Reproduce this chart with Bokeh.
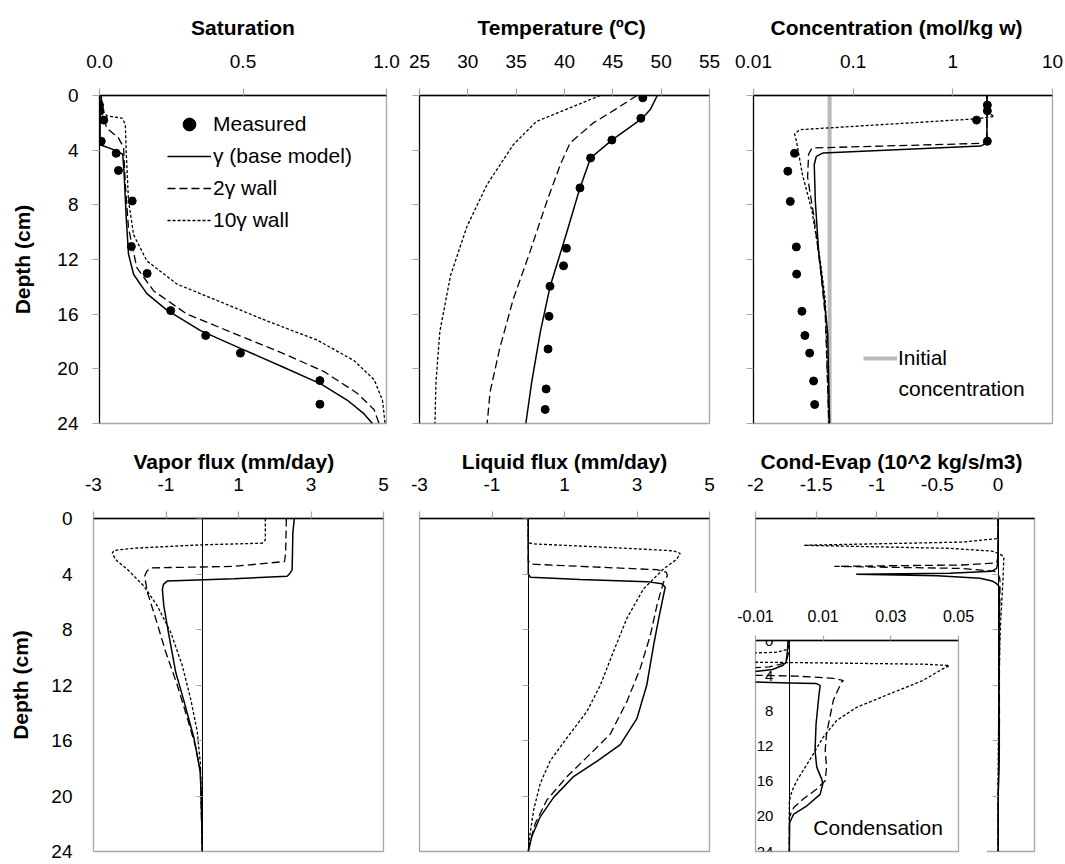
from bokeh.plotting import figure
from bokeh.models import (Range1d, LinearAxis, FixedTicker, Label, Legend, LegendItem, Title)
from bokeh.layouts import row, column
from bokeh.embed import file_html
from bokeh.resources import INLINE

# ---------------- data ----------------
depth_ticks = [0, 4, 8, 12, 16, 20, 24]

# Saturation
sat_meas_depth = [0.70, 1.12, 1.80, 3.35, 4.23, 5.49, 7.72, 11.05, 13.02, 15.74, 17.56, 18.85, 20.86, 22.59]
sat_meas = [0.0, 0.002, 0.015, 0.006, 0.058, 0.066, 0.114, 0.111, 0.166, 0.248, 0.370, 0.491, 0.768, 0.768]
sat_base_depth = [0, 1.0, 2.5, 3.6, 3.96, 4.3, 5.8, 8.9, 11.6, 13.1, 14.5, 15.7, 17.2, 18.5, 19.9, 21.1, 22.3, 23.3, 24]
sat_base = [0.006, 0.003, 0.002, 0.002, 0.049, 0.081, 0.086, 0.093, 0.101, 0.119, 0.165, 0.235, 0.352, 0.491, 0.643, 0.771, 0.864, 0.922, 0.951]
sat_2g_depth = [0, 1.5, 2.4, 3.1, 3.8, 6.5, 9.7, 12.6, 14.3, 16.0, 17.4, 18.9, 20.2, 21.8, 23.0, 24]
sat_2g = [0.006, 0.010, 0.026, 0.066, 0.084, 0.090, 0.101, 0.130, 0.189, 0.305, 0.468, 0.643, 0.782, 0.899, 0.957, 0.974]
sat_10g_depth = [0, 1.2, 1.5, 1.65, 2.1, 4.1, 7.7, 10.2, 12.1, 13.8, 15.0, 16.5, 17.9, 19.4, 20.8, 22.3, 24]
sat_10g = [0.006, 0.014, 0.026, 0.078, 0.090, 0.093, 0.101, 0.119, 0.165, 0.270, 0.410, 0.584, 0.759, 0.887, 0.957, 0.986, 0.995]
sat_ticks = [0.0, 0.5, 1.0]
sat_labels = ["0.0", "0.5", "1.0"]

# Temperature
temp_meas_depth = [0.17, 1.67, 3.26, 4.57, 6.76, 11.18, 12.46, 13.96, 16.16, 18.55, 21.47, 22.97]
temp_meas = [48.1, 47.9, 44.9, 42.7, 41.6, 40.2, 39.9, 38.5, 38.4, 38.3, 38.1, 38.0]
temp_base_depth = [0, 1.0, 1.7, 3.26, 4.57, 6.76, 10.1, 14.0, 17.3, 21.0, 24]
temp_base = [49.6, 48.9, 48.0, 44.9, 42.7, 41.6, 40.2, 38.5, 37.5, 36.6, 36.0]
temp_2g_depth = [0, 1.0, 2.0, 3.45, 5.0, 7.7, 11.5, 14.9, 18.5, 21.7, 24]
temp_2g = [47.5, 45.3, 43.0, 40.6, 39.6, 38.2, 36.4, 34.7, 33.3, 32.3, 32.0]
temp_10g_depth = [0, 1.9, 3.6, 6.5, 9.6, 13.2, 17.3, 21.0, 24]
temp_10g = [43.7, 37.1, 34.7, 32.0, 29.9, 28.2, 27.1, 26.7, 26.6]
temp_ticks = [25, 30, 35, 40, 45, 50, 55]

# Concentration
conc_meas_depth = [0.70, 1.12, 1.80, 3.35, 4.23, 5.54, 7.75, 11.08, 13.07, 15.79, 17.56, 18.85, 20.89, 22.61]
conc_meas = [2.22, 2.22, 1.73, 2.22, 0.0258, 0.0221, 0.0234, 0.0269, 0.0271, 0.0306, 0.0328, 0.0366, 0.0401, 0.0411]
conc_base_depth = [0, 3.47, 3.7, 4.2, 4.45, 5.05, 7.7, 11.4, 14.5, 17.4, 24]
conc_base = [2.2, 2.2, 1.9, 0.050, 0.0427, 0.0407, 0.0417, 0.045, 0.0505, 0.0555, 0.058]
conc_2g_depth = [0, 3.0, 3.3, 3.5, 3.84, 4.3, 6.0, 8.7, 12.6, 16.2, 24]
conc_2g = [2.2, 2.2, 2.45, 2.0, 0.0386, 0.0357, 0.0349, 0.0401, 0.0468, 0.0526, 0.057]
conc_10g_depth = [0, 1.3, 1.53, 1.7, 2.5, 2.8, 3.35, 5.8, 8.45, 12.1, 15.0, 24]
conc_10g = [2.2, 2.3, 2.6, 1.76, 0.0294, 0.0258, 0.027, 0.031, 0.0386, 0.0468, 0.0526, 0.057]
conc_initial = 0.058
conc_ticks = [0.01, 0.1, 1, 10]
conc_labels = ["0.01", "0.1", "1", "10"]

# Vapor flux
vap_base_depth = [0, 1, 3.7, 4.04, 4.16, 4.35, 4.5, 4.75, 5.1, 6.3, 8.4, 11.1, 13.2, 15.8, 18.2, 19.8, 24]
vap_base = [2.54, 2.50, 2.48, 2.39, 2.34, 0.87, -0.96, -1.07, -1.10, -1.06, -0.92, -0.73, -0.50, -0.23, -0.06, -0.03, 0]
vap_2g_depth = [0, 2.5, 3.1, 3.45, 3.56, 3.8, 4.16, 5.35, 7.25, 9.6, 12.0, 14.4, 16.5, 18.2, 24]
vap_2g = [2.32, 2.30, 2.27, 0.87, -1.42, -1.53, -1.59, -1.51, -1.28, -1.01, -0.69, -0.41, -0.18, -0.05, 0]
vap_10g_depth = [0, 1.55, 1.78, 1.9, 2.14, 2.3, 2.5, 2.97, 3.68, 4.87, 6.3, 8.2, 10.6, 13.0, 15.3, 17.7, 24]
vap_10g = [1.74, 1.74, 1.65, -0.05, -1.88, -2.43, -2.48, -2.39, -2.06, -1.61, -1.24, -0.87, -0.55, -0.32, -0.14, -0.05, 0]
flux_ticks = [-3, -1, 1, 3, 5]

# Liquid flux
liq_base_depth = [0, 4.0, 4.24, 4.4, 4.55, 4.71, 4.95, 5.55, 7.2, 9.1, 12.0, 14.4, 16.3, 17.5, 18.6, 20.1, 21.5, 22.9, 24]
liq_base = [0, 0, 0.06, 1.43, 3.27, 3.69, 3.78, 3.73, 3.60, 3.46, 3.27, 3.0, 2.54, 1.89, 1.25, 0.70, 0.33, 0.10, 0]
liq_2g_depth = [0, 3.05, 3.29, 3.45, 3.69, 3.88, 4.12, 4.6, 6.26, 8.4, 10.8, 13.2, 15.55, 17.2, 18.6, 20.3, 22.0, 23.4, 24]
liq_2g = [0, 0, 0.10, 1.43, 3.55, 3.81, 3.84, 3.73, 3.55, 3.37, 3.09, 2.72, 2.26, 1.62, 1.07, 0.51, 0.19, 0.04, 0]
liq_10g_depth = [0, 1.74, 1.83, 2.1, 2.33, 2.52, 2.93, 3.64, 5.07, 7.2, 9.6, 12.0, 13.9, 15.8, 17.45, 19.1, 21.0, 22.9, 24]
liq_10g = [0, 0, 0.15, 2.35, 4.01, 4.19, 4.10, 3.73, 3.18, 2.72, 2.35, 1.99, 1.62, 1.07, 0.61, 0.33, 0.15, 0.04, 0]

# Condensation - evaporation (10^2 kg/s/m3)
ce_base_depth = [0, 1.0, 2.0, 2.5, 2.85, 3.3, 3.6, 3.8, 3.95, 4.02, 4.12, 4.3, 4.5, 4.7, 4.82, 4.9, 5.1, 6.8, 9.5, 12.5, 14.4, 15.8, 16.3, 17.5, 18.8, 19.75, 20.7, 24]
ce_base = [-0.0004, -0.0005, -0.0008, -0.001, -0.002, -0.005, -0.012, -0.05, -0.4, -1.17, -0.5, -0.15, -0.05, -0.012, 0.0, 0.008, 0.0091, 0.0086, 0.0079, 0.0076, 0.0081, 0.0096, 0.0099, 0.0091, 0.0052, 0.0013, 0.0001, 0]
ce_2g_depth = [0, 1.5, 2.5, 2.75, 3.0, 3.2, 3.35, 3.45, 3.6, 3.8, 3.95, 4.05, 4.3, 4.56, 4.75, 6.8, 10.6, 12.5, 14.4, 15.95, 16.9, 18.0, 19.0, 20.1, 24]
ce_2g = [0, -0.0003, -0.001, -0.003, -0.006, -0.015, -0.3, -1.35, -0.3, -0.03, -0.011, 0.002, 0.013, 0.016, 0.0154, 0.013, 0.011, 0.0106, 0.011, 0.0106, 0.0081, 0.0042, 0.0013, 0.0, 0]
ce_10g_depth = [0, 1.0, 1.35, 1.45, 1.7, 1.93, 2.15, 2.35, 2.47, 2.55, 2.7, 2.85, 3.3, 4.56, 6.08, 7.6, 9.1, 11.0, 12.9, 14.4, 15.95, 17.1, 18.2, 24]
ce_10g = [0, -0.0005, -0.004, -0.015, -0.3, -1.60, -0.4, -0.05, -0.011, 0.01, 0.04, 0.0473, 0.045, 0.0394, 0.0296, 0.0199, 0.014, 0.010, 0.0071, 0.0047, 0.0022, 0.0008, 0, 0]
ce_ticks = [-2, -1.5, -1, -0.5, 0]
ce_labels = ["-2", "-1.5", "-1", "-0.5", "0"]
inset_ticks = [-0.01, 0.01, 0.03, 0.05]
inset_labels = ["-0.01", "0.01", "0.03", "0.05"]

# ---------------- styling ----------------
FONT = "Liberation Sans"
GRAY = "#a6a6a6"
LW_SOLID = 1.5
LW_DASH = 1.3
DASH = "8 4"
DOT = "3 2"
TICK_FS = "19px"


def base_fig(width, height, left, right, top, bottom, x_range, x_axis_type="linear",
             x_standoff=21):
    p = figure(width=width, height=height, x_range=x_range, y_range=Range1d(24, 0),
               x_axis_type=x_axis_type, x_axis_location="above",
               output_backend="svg", toolbar_location=None,
               min_border_left=left, min_border_right=right,
               min_border_top=top, min_border_bottom=bottom,
               background_fill_color="white", border_fill_color="white",
               outline_line_color=GRAY, outline_line_width=1.3)
    p.xgrid.visible = False
    p.ygrid.visible = False
    for ax in p.xaxis:
        ax.axis_line_color = "black"
        ax.axis_line_width = 1.6
        ax.major_tick_out = 7
        ax.major_tick_in = 0
        ax.major_tick_line_color = GRAY
        ax.major_tick_line_width = 1.2
        ax.minor_tick_line_color = None
        ax.major_label_text_font = FONT
        ax.major_label_text_font_size = TICK_FS
        ax.major_label_text_color = "black"
        ax.major_label_standoff = x_standoff
    for ax in p.yaxis:
        ax.ticker = FixedTicker(ticks=depth_ticks)
        ax.axis_line_color = "black"
        ax.axis_line_width = 1.2
        ax.major_tick_out = 7
        ax.major_tick_in = 0
        ax.major_tick_line_color = GRAY
        ax.major_tick_line_width = 1.2
        ax.minor_tick_line_color = None
        ax.major_label_text_font = FONT
        ax.major_label_text_font_size = TICK_FS
        ax.major_label_text_color = "black"
        ax.major_label_standoff = 14
    return p


def set_xticks(p, ticks, labels):
    p.xaxis.ticker = FixedTicker(ticks=ticks)
    p.xaxis.major_label_overrides = {t: l for t, l in zip(ticks, labels)}


def hide_ylabels(ax):
    ax.major_label_overrides = {t: "" for t in depth_ticks}


def depth_label(p, standoff):
    p.yaxis.axis_label = "Depth (cm)"
    p.yaxis.axis_label_text_font = FONT
    p.yaxis.axis_label_text_font_style = "bold"
    p.yaxis.axis_label_text_font_size = "21px"
    p.yaxis.axis_label_text_color = "black"
    p.yaxis.axis_label_standoff = standoff


def set_title(p, text, standoff, align="center", offset=0, size="21px"):
    p.title = Title(text=text, align=align, offset=offset, standoff=standoff,
                    text_font=FONT, text_font_style="bold", text_font_size=size,
                    text_color="black")


def three_lines(p, d1, v1, d2, v2, d3, v3):
    r1 = p.line(v1, d1, line_color="black", line_width=LW_SOLID)
    r2 = p.line(v2, d2, line_color="black", line_width=LW_DASH, line_dash=DASH)
    r3 = p.line(v3, d3, line_color="black", line_width=LW_DASH, line_dash=DOT)
    return r1, r2, r3


def zero_axis(p, ax=None):
    if ax is None:
        ax = LinearAxis()
        p.add_layout(ax, "left")
    ax.fixed_location = 0
    ax.ticker = FixedTicker(ticks=depth_ticks)
    ax.axis_line_color = "black"
    ax.axis_line_width = 1.0
    ax.major_tick_out = 6
    ax.major_tick_in = 0
    ax.major_tick_line_color = GRAY
    ax.minor_tick_line_color = None
    hide_ylabels(ax)
    return ax


TOP_H, TOP_T, TOP_B = 438, 94, 15
BOT_H, BOT_T, BOT_B = 426, 80, 13
TOP_STANDOFF = 26
BOT_STANDOFF = 4
TOP_XS = 21
BOT_XS = 21

# ---------------- Saturation ----------------
p_sat = base_fig(400, TOP_H, 99, 14, TOP_T, TOP_B, Range1d(0, 1), x_standoff=TOP_XS)
set_xticks(p_sat, sat_ticks, sat_labels)
depth_label(p_sat, 20)
r1, r2, r3 = three_lines(p_sat, sat_base_depth, sat_base, sat_2g_depth, sat_2g, sat_10g_depth, sat_10g)
rm = p_sat.scatter(sat_meas, sat_meas_depth, size=8, color="black")
set_title(p_sat, "Saturation", TOP_STANDOFF)
leg = Legend(items=[LegendItem(label="Measured", renderers=[rm]),
                    LegendItem(label="\u03b3 (base model)", renderers=[r1]),
                    LegendItem(label="2\u03b3 wall", renderers=[r2]),
                    LegendItem(label="10\u03b3 wall", renderers=[r3])],
             location=(68, 187), glyph_width=44, glyph_height=32, label_height=32,
             label_standoff=2, spacing=0, padding=0, margin=0,
             border_line_color=None, background_fill_alpha=0,
             label_text_font=FONT, label_text_font_size="21px", label_text_color="black")
p_sat.add_layout(leg, "center")

# ---------------- Temperature ----------------
p_tem = base_fig(330, TOP_H, 19, 21, TOP_T, TOP_B, Range1d(25, 55), x_standoff=TOP_XS)
set_xticks(p_tem, temp_ticks, [str(t) for t in temp_ticks])
hide_ylabels(p_tem.yaxis[0])
three_lines(p_tem, temp_base_depth, temp_base, temp_2g_depth, temp_2g, temp_10g_depth, temp_10g)
p_tem.scatter(temp_meas, temp_meas_depth, size=8, color="black")
set_title(p_tem, "Temperature (\u00baC)", TOP_STANDOFF, align="left", offset=58)

# ---------------- Concentration ----------------
p_con = base_fig(333, TOP_H, 23, 11, TOP_T, TOP_B, Range1d(0.01, 10), x_axis_type="log",
                 x_standoff=TOP_XS)
set_xticks(p_con, conc_ticks, conc_labels)
hide_ylabels(p_con.yaxis[0])
ri = p_con.line([conc_initial, conc_initial], [0, 24], line_color="#b9b9b9", line_width=4)
three_lines(p_con, conc_base_depth, conc_base, conc_2g_depth, conc_2g, conc_10g_depth, conc_10g)
p_con.scatter(conc_meas, conc_meas_depth, size=8, color="black")
set_title(p_con, "Concentration (mol/kg w)", TOP_STANDOFF, align="left", offset=17)
leg2 = Legend(items=[LegendItem(label="Initial", renderers=[ri])],
              location=(110, 50), glyph_width=34, glyph_height=30, label_height=30,
              label_standoff=1, spacing=0, padding=0, margin=0,
              border_line_color=None, background_fill_alpha=0,
              label_text_font=FONT, label_text_font_size="21px", label_text_color="black")
p_con.add_layout(leg2, "center")
p_con.add_layout(Label(x=0.285, y=21.45, text="concentration", text_align="left",
                       text_baseline="middle", text_font=FONT, text_font_size="21px",
                       text_color="black"))

# ---------------- Vapor flux ----------------
p_vap = base_fig(400, BOT_H, 93, 17, BOT_T, BOT_B, Range1d(-3, 5), x_standoff=BOT_XS)
set_xticks(p_vap, flux_ticks, [str(t) for t in flux_ticks])
depth_label(p_vap, 16)
p_vap.yaxis.axis_line_color = None
p_vap.yaxis.major_tick_line_color = None
p_vap.yaxis.major_tick_out = 0
p_vap.yaxis.major_label_standoff = 21
zero_axis(p_vap)
three_lines(p_vap, vap_base_depth, vap_base, vap_2g_depth, vap_2g, vap_10g_depth, vap_10g)
set_title(p_vap, "Vapor flux (mm/day)", BOT_STANDOFF, align="left", offset=40)

# ---------------- Liquid flux ----------------
p_liq = base_fig(330, BOT_H, 19, 21, BOT_T, BOT_B, Range1d(-3, 5), x_standoff=BOT_XS)
set_xticks(p_liq, flux_ticks, [str(t) for t in flux_ticks])
zero_axis(p_liq, p_liq.yaxis[0])
three_lines(p_liq, liq_base_depth, liq_base, liq_2g_depth, liq_2g, liq_10g_depth, liq_10g)
set_title(p_liq, "Liquid flux (mm/day)", BOT_STANDOFF)

# ---------------- Cond-Evap ----------------
p_ce = base_fig(333, BOT_H, 23, 14, BOT_T, BOT_B, Range1d(-2, 0.3), x_standoff=BOT_XS)
set_xticks(p_ce, ce_ticks, ce_labels)
zero_axis(p_ce, p_ce.yaxis[0])
three_lines(p_ce, ce_base_depth, ce_base, ce_2g_depth, ce_2g, ce_10g_depth, ce_10g)
set_title(p_ce, "Cond-Evap (10^2 kg/s/m3)", BOT_STANDOFF, align="left", offset=5)

# ---------------- Inset (condensation) ----------------
IN_H = 272
p_in = base_fig(257, IN_H, 25, 29, 48, 13, Range1d(-0.01, 0.05), x_standoff=14)
p_in.margin = (-IN_H, 0, 0, 0)
p_in.align = "start"
set_xticks(p_in, inset_ticks, inset_labels)
p_in.xaxis.major_tick_out = 5
p_in.xaxis.major_label_text_font_size = "16px"
p_in.xaxis.axis_line_width = 1.3
yin = p_in.yaxis[0]
yin.fixed_location = 0
yin.axis_line_width = 1.0
yin.major_tick_out = 0
yin.major_tick_line_color = None
yin.major_label_standoff = 16
yin.major_label_text_font_size = "15px"
three_lines(p_in, ce_base_depth, ce_base, ce_2g_depth, ce_2g, ce_10g_depth, ce_10g)
p_in.add_layout(Label(x=0.0071, y=21.3, text="Condensation", text_align="left",
                      text_baseline="alphabetic", text_font=FONT, text_font_size="21px",
                      text_color="black"))

layout = column(row(p_sat, p_tem, p_con, spacing=0),
                row(p_vap, p_liq, column(p_ce, p_in, spacing=0), spacing=0),
                spacing=0)

open("out.html", "w").write(file_html(layout, INLINE))
